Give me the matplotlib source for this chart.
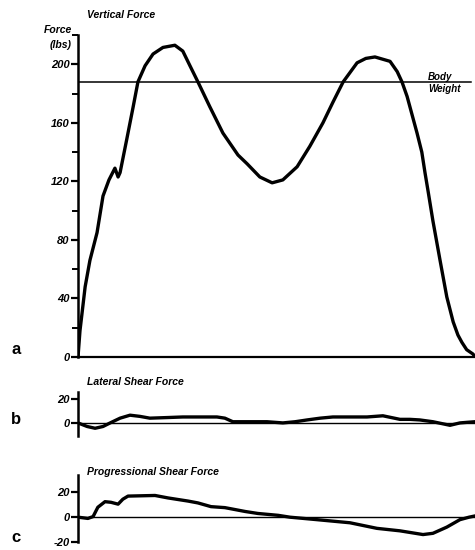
import matplotlib
matplotlib.use('Agg')
import matplotlib.pyplot as plt
from matplotlib.ticker import MultipleLocator

# percent of stance phase vs force
t_vert = [0, 0.5, 1.8, 3.0, 4.8, 6.3, 7.8, 9.3, 10.1, 10.6, 12.3, 13.9, 15.1, 16.9,
          18.9, 21.4, 24.4, 26.4, 28.2, 30.2, 33.2, 36.5, 40.3, 42.6, 45.8, 48.9,
          51.6, 55.2, 58.4, 61.7, 64.2, 66.8, 70.3, 72.5, 74.8, 78.6, 80.4, 81.6,
          82.9, 84.1, 85.4, 86.6, 87.4, 88.2, 89.4, 91.2, 92.9, 94.5, 95.7, 96.7,
          97.9, 99.5, 100]
f_vert = [0, 18, 48, 66, 85, 110, 121, 129, 123, 126, 149, 171, 188, 199,
          207, 211.5, 213, 209, 199, 188, 171, 153, 138, 132, 123, 119,
          121, 130, 144, 160, 174, 188, 201, 204, 205, 202, 195, 188,
          178, 166, 153, 140, 126, 113, 93, 66, 41, 24, 15, 10,
          5, 2, 0]
body_weight = 188

t_lat = [0, 2.3, 4.3, 6.3, 8.1, 10.6, 13.1, 15.6, 18.1, 22.4, 26.4, 30.7, 35.0, 37.0,
         39.0, 43.3, 47.6, 51.6, 54.7, 57.7, 61.0, 64.2, 68.5, 72.8, 76.8, 81.1,
         83.6, 86.1, 89.4, 93.7, 96.2, 98.0, 100]
f_lat = [0, -3, -4.5, -3, 0, 4, 6.5, 5.5, 4, 4.5, 5, 5, 5, 4,
         1, 1, 1, 0, 1, 2.5, 4, 5, 5, 5, 6, 3,
         3, 2.5, 1, -2, 0, 0.5, 1]

t_prog = [0, 2.5, 3.8, 5.0, 6.8, 8.3, 10.1, 11.3, 12.6, 19.4, 22.7, 27.7, 30.2,
          33.5, 37.0, 42.1, 45.3, 50.4, 53.4, 60.2, 68.5, 75.3, 81.1, 86.9, 89.4,
          92.9, 96.2, 98.5, 100]
f_prog = [0, -1, 0.5, 8, 12.5, 12, 10.5, 14.5, 17, 17.5, 15.5, 13, 11.5,
          8.5, 7.7, 4.6, 3, 1.5, 0, -2, -4.5, -9, -11, -14, -13,
          -8, -2, 0, 1]

vert_ticks = [0, 40, 80, 120, 160, 200]
lat_ticks = [0, 20]
prog_ticks = [-20, 0, 20]

W, H = 475, 550
font = dict(family='Liberation Sans', weight='bold', style='italic')
plt.rcParams['font.family'] = 'Liberation Sans'


def px_axes(fig, x0, y0, x1, y1):
    # pixel box (top-left origin) -> axes
    return fig.add_axes([x0 / W, 1 - y1 / H, (x1 - x0) / W, (y1 - y0) / H])


def style_axes(ax, ticks):
    for s in ['top', 'right']:
        ax.spines[s].set_visible(False)
    ax.spines['left'].set_linewidth(1.8)
    ax.set_yticks(ticks)
    ax.set_yticklabels([str(v) for v in ticks], fontsize=8, **font)
    ax.tick_params(axis='y', which='major', length=5, width=1.6, pad=1)
    ax.tick_params(axis='y', which='minor', length=4, width=1.4)
    ax.set_xticks([])
    ax.set_xlim(0, 100)


fig = plt.figure(figsize=(W / 100, H / 100), dpi=100)

# a: vertical force
ax1 = px_axes(fig, 78, 35, 475, 357)
ax1.plot(t_vert, f_vert, color='black', lw=2.4, solid_joinstyle='round')
ax1.plot([0, 99], [body_weight, body_weight], color='black', lw=1.1)
ax1.set_ylim(0, 220)
ax1.yaxis.set_minor_locator(MultipleLocator(20))
ax1.spines['bottom'].set_linewidth(1.6)
style_axes(ax1, vert_ticks)

# b: lateral shear
ax2 = px_axes(fig, 78, 392, 475, 436)
ax2.plot(t_lat, f_lat, color='black', lw=2.4, solid_joinstyle='round')
ax2.axhline(0, color='black', lw=1.0)
ax2.set_ylim(-11, 26)
ax2.spines['bottom'].set_visible(False)
style_axes(ax2, lat_ticks)

# c: progressional shear
ax3 = px_axes(fig, 78, 475, 475, 542)
ax3.plot(t_prog, f_prog, color='black', lw=2.4, solid_joinstyle='round')
ax3.axhline(0, color='black', lw=1.0)
ax3.set_ylim(-20, 34)
ax3.spines['bottom'].set_visible(False)
style_axes(ax3, prog_ticks)


def ftext(x, y, s, **kw):
    fig.text(x / W, 1 - y / H, s, **kw)


ftext(87, 15, 'Vertical Force', fontsize=7.5, va='center', ha='left', **font)
ftext(72, 30, 'Force', fontsize=7.5, va='center', ha='right', **font)
ftext(72, 45, '(lbs)', fontsize=7.5, va='center', ha='right', **font)
ftext(428, 77, 'Body', fontsize=7, va='center', ha='left', **font)
ftext(428, 89, 'Weight', fontsize=7, va='center', ha='left', **font)
ftext(87, 382, 'Lateral Shear Force', fontsize=7.5, va='center', ha='left', **font)
ftext(87, 472, 'Progressional Shear Force', fontsize=7.5, va='center', ha='left', **font)

for lbl, yy in [('a', 350), ('b', 420), ('c', 538)]:
    ftext(11, yy, lbl, fontsize=12, va='center', ha='left',
          family='Liberation Sans', weight='bold')

fig.savefig('out.png', dpi=100)
